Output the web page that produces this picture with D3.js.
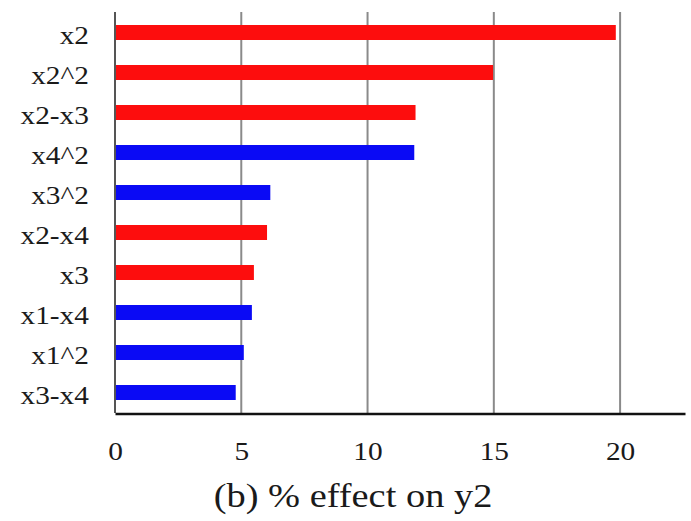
<!DOCTYPE html>
<html>
<head>
<meta charset="utf-8">
<script src="https://cdn.jsdelivr.net/npm/d3@7"></script>
<style>
  html, body { margin: 0; padding: 0; background: #fff; }
  svg { display: block; }
  text { font-family: "Liberation Serif", "Times New Roman", serif; fill: #1a1a1a; }
</style>
</head>
<body>
<svg id="chart" width="691" height="521"></svg>
<script>
const categories = ['x2', 'x2^2', 'x2-x3', 'x4^2', 'x3^2', 'x2-x4', 'x3', 'x1-x4', 'x1^2', 'x3-x4'];
const effects = [19.83, 14.97, 11.9, 11.85, 6.15, 6.02, 5.5, 5.42, 5.1, 4.78];
const groups = ['A', 'A', 'A', 'B', 'B', 'A', 'A', 'B', 'B', 'B'];
const xTicks = [0, 5, 10, 15, 20];
const title = '(b) % effect on y2';

const svg = d3.select('#chart');
const stretch = 1.13;
const x = d3.scaleLinear().domain([0, 22.57]).range([115, 685]);
const y = d3.scaleBand().domain(categories).range([12.5, 412.5]).paddingInner(0.625).paddingOuter(0.3125);
const color = d3.scaleOrdinal().domain(['A', 'B']).range(['#fd0d0d', '#0a0af5']);
const rows = categories.map((name, i) => ({ name, value: effects[i], group: groups[i] }));

// vertical gridlines
svg.append('g')
  .selectAll('line')
  .data(xTicks.filter((t) => t > 0))
  .join('line')
  .attr('x1', (d) => x(d)).attr('x2', (d) => x(d))
  .attr('y1', 12).attr('y2', 413)
  .attr('stroke', '#8a8a8a').attr('stroke-width', 2);

svg.append('g')
  .selectAll('rect')
  .data(rows)
  .join('rect')
  .attr('x', x(0))
  .attr('y', (d) => y(d.name))
  .attr('width', (d) => x(d.value) - x(0))
  .attr('height', y.bandwidth())
  .attr('fill', (d) => color(d.group));

// left axis line
svg.append('line')
  .attr('x1', x(0)).attr('x2', x(0)).attr('y1', 12).attr('y2', 413)
  .attr('stroke', '#555').attr('stroke-width', 2);

// bottom axis
const xAxis = svg.append('g')
  .attr('transform', 'translate(0,413.5)')
  .call(d3.axisBottom(x).tickValues(xTicks).tickSize(0).tickPadding(0));
xAxis.select('.domain').attr('stroke', '#111').attr('stroke-width', 2.5);
xAxis.selectAll('text')
  .attr('y', 47).attr('dy', null)
  .attr('fill', '#1a1a1a')
  .style('font-size', '26px')
  .attr('transform', `scale(${stretch},1)`);

// category labels
svg.append('g')
  .selectAll('g')
  .data(categories)
  .join('g')
  .attr('transform', (d) => `translate(89,${y(d) + y.bandwidth() / 2 + 11}) scale(${stretch},1)`)
  .append('text')
  .attr('text-anchor', 'end')
  .style('font-size', '26px')
  .text((d) => d);

svg.append('text')
  .attr('transform', `translate(353,507) scale(${stretch},1)`)
  .attr('text-anchor', 'middle')
  .style('font-size', '34px')
  .text(title);
</script>
</body>
</html>
